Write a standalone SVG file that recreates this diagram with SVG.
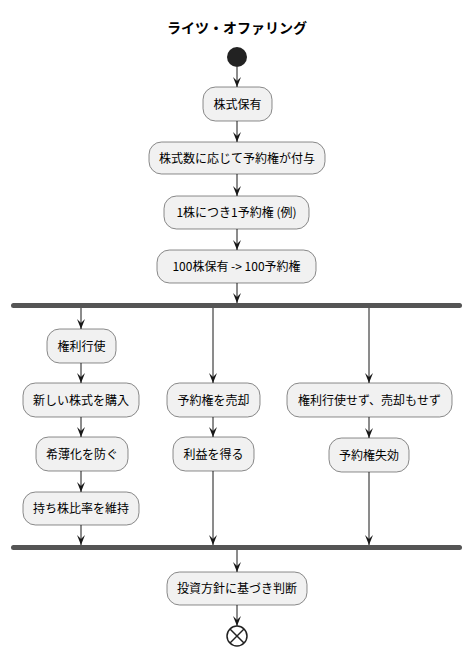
<svg xmlns="http://www.w3.org/2000/svg" width="473" height="655" viewBox="0 0 473 655">
<defs>
<style>
.box{fill:#F1F1F1;stroke:#181818;stroke-width:0.5}
.bar{fill:#555555;stroke:none}
.t{font-family:"Noto Sans CJK JP","Noto Sans",sans-serif;font-size:12px;fill:#000;text-anchor:middle}
.title{font-family:"Noto Sans CJK JP","Noto Sans",sans-serif;font-size:14px;font-weight:bold;fill:#000;text-anchor:middle}
.ln{stroke:#181818;stroke-width:1;fill:none}
</style>
<marker id="ah" markerWidth="10" markerHeight="8" refX="10" refY="4" orient="auto" markerUnits="userSpaceOnUse" viewBox="0 0 10 8">
<polygon points="0,0 10,4 0,8 4,4" fill="#181818"/>
</marker>
</defs>
<rect width="473" height="655" fill="#FFFFFF"/>
<text class="title" x="237" y="33">ライツ・オファリング</text>

<g id="connectors">
<line class="ln" x1="237" y1="67" x2="237" y2="87" marker-end="url(#ah)"/>
<line class="ln" x1="237" y1="121" x2="237" y2="142" marker-end="url(#ah)"/>
<line class="ln" x1="237" y1="174" x2="237" y2="196" marker-end="url(#ah)"/>
<line class="ln" x1="237" y1="229" x2="237" y2="250" marker-end="url(#ah)"/>
<line class="ln" x1="237" y1="283" x2="237" y2="303" marker-end="url(#ah)"/>
<line class="ln" x1="81" y1="308" x2="81" y2="329" marker-end="url(#ah)"/>
<line class="ln" x1="81" y1="363" x2="81" y2="383" marker-end="url(#ah)"/>
<line class="ln" x1="81" y1="417" x2="81" y2="437" marker-end="url(#ah)"/>
<line class="ln" x1="81" y1="471" x2="81" y2="492" marker-end="url(#ah)"/>
<line class="ln" x1="81" y1="525" x2="81" y2="545" marker-end="url(#ah)"/>
<line class="ln" x1="213" y1="308" x2="213" y2="383" marker-end="url(#ah)"/>
<line class="ln" x1="213" y1="417" x2="213" y2="437" marker-end="url(#ah)"/>
<line class="ln" x1="213" y1="471" x2="213" y2="545" marker-end="url(#ah)"/>
<line class="ln" x1="369" y1="308" x2="369" y2="383" marker-end="url(#ah)"/>
<line class="ln" x1="369" y1="417" x2="369" y2="438" marker-end="url(#ah)"/>
<line class="ln" x1="369" y1="472" x2="369" y2="545" marker-end="url(#ah)"/>
<line class="ln" x1="237" y1="550" x2="237" y2="572" marker-end="url(#ah)"/>
<line class="ln" x1="237" y1="605" x2="237" y2="626" marker-end="url(#ah)"/>
</g>

<g id="start"><circle cx="237" cy="57" r="10" fill="#222222"/></g>

<g id="n1"><rect class="box" x="203" y="87" width="69" height="34" rx="12.5"/><text class="t" x="237.5" y="108.5">株式保有</text></g>
<g id="n2"><rect class="box" x="149" y="142" width="176" height="32" rx="12.5"/><text class="t" x="237" y="162.5">株式数に応じて予約権が付与</text></g>
<g id="n3"><rect class="box" x="164" y="196" width="145" height="33" rx="12.5"/><text class="t" x="236.5" y="217">1株につき1予約権 (例)</text></g>
<g id="n4"><rect class="box" x="157" y="250" width="159" height="33" rx="12.5"/><text class="t" x="236.5" y="271">100株保有 -&gt; 100予約権</text></g>

<g id="fork"><rect class="bar" x="11" y="303" width="451" height="5" rx="2.5"/></g>

<g id="n5"><rect class="box" x="47" y="329" width="69" height="34" rx="12.5"/><text class="t" x="81.5" y="350.5">権利行使</text></g>
<g id="n6"><rect class="box" x="23" y="383" width="116" height="34" rx="12.5"/><text class="t" x="81" y="404.5">新しい株式を購入</text></g>
<g id="n7"><rect class="box" x="36" y="437" width="92" height="34" rx="12.5"/><text class="t" x="82" y="458.5">希薄化を防ぐ</text></g>
<g id="n8"><rect class="box" x="23" y="492" width="116" height="33" rx="12.5"/><text class="t" x="81" y="513">持ち株比率を維持</text></g>

<g id="n9"><rect class="box" x="167" y="383" width="93" height="34" rx="12.5"/><text class="t" x="213.5" y="404.5">予約権を売却</text></g>
<g id="n10"><rect class="box" x="173" y="437" width="81" height="34" rx="12.5"/><text class="t" x="213.5" y="458.5">利益を得る</text></g>

<g id="n11"><rect class="box" x="287" y="383" width="165" height="34" rx="12.5"/><text class="t" x="369.5" y="404.5">権利行使せず、売却もせず</text></g>
<g id="n12"><rect class="box" x="329" y="438" width="80" height="34" rx="12.5"/><text class="t" x="369" y="459.5">予約権失効</text></g>

<g id="join"><rect class="bar" x="11" y="545" width="451" height="5" rx="2.5"/></g>

<g id="n13"><rect class="box" x="167" y="572" width="140" height="33" rx="12.5"/><text class="t" x="237" y="593">投資方針に基づき判断</text></g>

<g id="end">
<circle cx="237" cy="636" r="10" fill="#FFFFFF" stroke="#222222" stroke-width="1.5"/>
<line x1="230" y1="629" x2="244" y2="643" stroke="#222222" stroke-width="1.5"/>
<line x1="244" y1="629" x2="230" y2="643" stroke="#222222" stroke-width="1.5"/>
</g>
</svg>
